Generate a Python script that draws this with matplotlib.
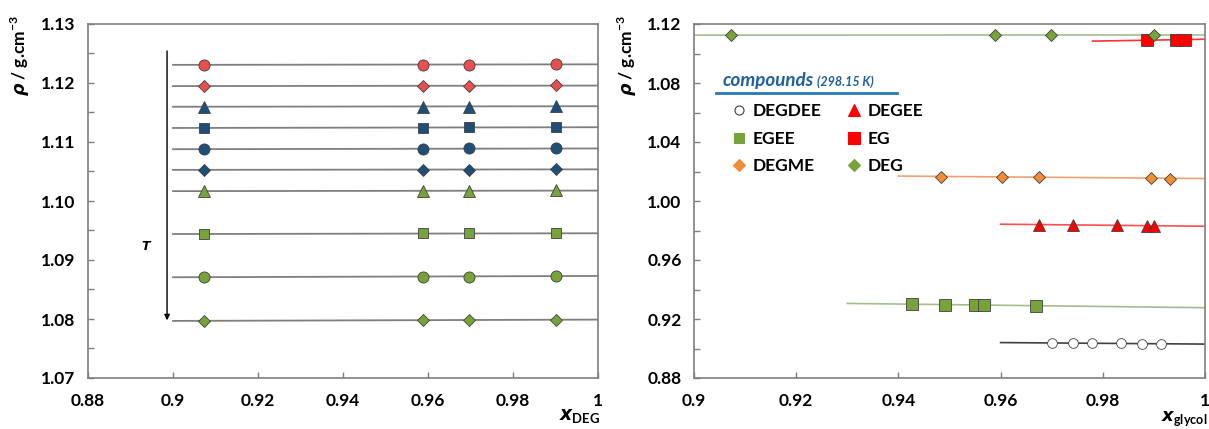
import numpy as np
import matplotlib
matplotlib.use('Agg')
import matplotlib.pyplot as plt
from matplotlib.ticker import MultipleLocator, FuncFormatter
from matplotlib.lines import Line2D

plt.rcParams['font.family'] = ['Lato', 'DejaVu Sans']
plt.rcParams['font.weight'] = 'bold'
plt.rcParams['mathtext.fontset'] = 'custom'
plt.rcParams['mathtext.it'] = 'DejaVu Sans:italic:bold'
plt.rcParams['mathtext.rm'] = 'Lato:bold'
plt.rcParams['mathtext.bf'] = 'Lato:bold'

# ---- left panel: DEG density at several temperatures ----
x_deg = [0.9072, 0.9588, 0.9697, 0.9902]
rho_deg = [
    [1.1231, 1.1231, 1.1231, 1.1232],
    [1.1195, 1.1195, 1.1195, 1.1196],
    [1.1160, 1.1160, 1.1160, 1.1161],
    [1.1124, 1.1124, 1.1125, 1.1125],
    [1.1088, 1.1088, 1.1089, 1.1089],
    [1.1053, 1.1053, 1.1053, 1.1054],
    [1.1017, 1.1017, 1.1017, 1.1018],
    [1.0944, 1.0945, 1.0945, 1.0945],
    [1.0871, 1.0872, 1.0872, 1.0873],
    [1.0797, 1.0798, 1.0798, 1.0799],
]
left_markers = ['o', 'D', '^', 's', 'o', 'D', '^', 's', 'o', 'D']
left_sizes = [8, 6, 8, 7.5, 8, 6, 8, 7.5, 8, 6]
left_colors = ['#E8504F', '#E8504F', '#1F4E79', '#1F4E79', '#1F4E79', '#1F4E79',
               '#77A33A', '#77A33A', '#77A33A', '#77A33A']

# ---- right panel: compounds at 298.15 K ----
x_DEGDEE = [0.9701, 0.9742, 0.9778, 0.9836, 0.9877, 0.9913]
y_DEGDEE = [0.9037, 0.9037, 0.9036, 0.9034, 0.9033, 0.9032]
x_DEGEE = [0.9676, 0.9741, 0.9827, 0.9886, 0.9900]
y_DEGEE = [0.9840, 0.9838, 0.9835, 0.9833, 0.9832]
x_EGEE = [0.9427, 0.9491, 0.9550, 0.9568, 0.9669]
y_EGEE = [0.9300, 0.9298, 0.9295, 0.9295, 0.9290]
x_EG = [0.9887, 0.9943, 0.9960]
y_EG = [1.1090, 1.1094, 1.1094]
x_DEGME = [0.9483, 0.9602, 0.9675, 0.9894, 0.9932]
y_DEGME = [1.0165, 1.0165, 1.0162, 1.0157, 1.0152]
x_DEG = [0.9072, 0.9590, 0.9699, 0.9901]
y_DEG = [1.1125, 1.1125, 1.1125, 1.1126]

fig = plt.figure(figsize=(12.09, 4.29), dpi=100)
axL = fig.add_axes([88/1209, 1-378/429, 510/1209, 354/429])
axR = fig.add_axes([694/1209, 1-378/429, 511/1209, 354/429])

edge = '#404040'
for rho, m, ms, c in zip(rho_deg, left_markers, left_sizes, left_colors):
    k = np.polyfit(x_deg, rho, 1)
    xf = np.array([0.9, 1.0])
    axL.plot(xf, np.polyval(k, xf), color='#7F7F7F', lw=1.3, zorder=2)
    axL.plot(x_deg, rho, ls='none', marker=m, ms=ms, mfc=c, mec=edge, mew=0.6, zorder=3)

axL.annotate('', xy=(0.8986, 1.0793), xytext=(0.8986, 1.1259),
             arrowprops=dict(arrowstyle='-|>', color='black', lw=1.0, mutation_scale=8))
axL.text(0.8939, 1.0925, r'$T$', fontsize=9, ha='center', va='center')

axL.set_xlim(0.88, 1.0)
axL.set_ylim(1.07, 1.13)
axL.xaxis.set_major_locator(MultipleLocator(0.02))
axL.yaxis.set_major_locator(MultipleLocator(0.01))
axL.yaxis.set_minor_locator(MultipleLocator(0.005))
axL.yaxis.set_major_formatter(FuncFormatter(lambda v, p: f'{v:.2f}'))

# right panel series
series = [
    (x_DEGDEE, y_DEGDEE, 'DEGDEE', 'o', 7, 'white', '#404040', 0.96),
    (x_DEGEE, y_DEGEE, 'DEGEE', '^', 8.5, '#FF0000', '#FF5050', 0.96),
    (x_EGEE, y_EGEE, 'EGEE', 's', 8, '#77A33A', '#A6BC8C', 0.93),
    (x_EG, y_EG, 'EG', 's', 8.5, '#FF0000', '#FF3030', 0.978),
    (x_DEGME, y_DEGME, 'DEGME', 'D', 6.5, '#F28C35', '#F0A070', 0.94),
    (x_DEG, y_DEG, 'DEG', 'D', 6.5, '#77A33A', '#A6BC8C', 0.90),
]
handles = []
for xs, ys, name, m, ms, fc, lc, x0 in series:
    k = np.polyfit(xs, ys, 1)
    xf = np.array([x0, 1.0])
    axR.plot(xf, np.polyval(k, xf), color=lc, lw=1.2, zorder=2)
    h, = axR.plot(xs, ys, ls='none', marker=m, ms=ms, mfc=fc, mec=edge, mew=0.6,
                  zorder=3, label=name)
    handles.append(h)

axR.set_xlim(0.9, 1.0)
axR.set_ylim(0.88, 1.12)
axR.xaxis.set_major_locator(MultipleLocator(0.02))
axR.yaxis.set_major_locator(MultipleLocator(0.04))
axR.yaxis.set_minor_locator(MultipleLocator(0.02))
axR.yaxis.set_major_formatter(FuncFormatter(lambda v, p: f'{v:.2f}'))

# legend filled row by row (matplotlib fills columns first)
order = [0, 2, 4, 1, 3, 5]
leg_handles = []
for i in order:
    h = handles[i]
    fc = h.get_markerfacecolor()
    leg_handles.append(Line2D([], [], ls='none', marker=h.get_marker(), ms=h.get_markersize() - 0.5,
                              mfc=fc, mec='#404040' if fc == 'white' else fc, mew=0.8))
axR.legend(leg_handles, [handles[i].get_label() for i in order], ncol=2, loc='upper left',
           bbox_to_anchor=(0.058, 0.80), frameon=False, handlelength=0.8,
           handletextpad=0.35, columnspacing=1.5, labelspacing=0.65, borderpad=0,
           prop={'weight': 'bold', 'size': 12.5})
axR.text(0.055, 0.825, 'compounds', transform=axR.transAxes, color='#1F5FA0',
         style='italic', fontsize=13.5, ha='left', va='baseline')
axR.text(0.240, 0.825, '(298.15 K)', transform=axR.transAxes, color='#1F5FA0',
         style='italic', fontsize=9, ha='left', va='baseline')
axR.plot([0.043, 0.398], [0.805, 0.805], transform=axR.transAxes, color='#2E75B6', lw=2)

fmt_x = FuncFormatter(lambda v, p: f'{round(v, 4):g}')
for ax in (axL, axR):
    ax.xaxis.set_major_formatter(fmt_x)
    for s in ax.spines.values():
        s.set_color('#7F7F7F')
        s.set_linewidth(1.2)
    ax.tick_params(which='both', direction='in', length=4, width=1, color='#7F7F7F',
                   labelsize=12.5, pad=9)
    ax.tick_params(axis='x', pad=11)
    for lab in ax.get_xticklabels() + ax.get_yticklabels():
        lab.set_fontweight('bold')

ylab = r'$\rho$ / g.cm$^{\mathrm{-3}}$'
fig.text(20/1209, 1-56/429, ylab, rotation=90, ha='center', va='center', fontsize=12.5)
fig.text(627/1209, 1-56/429, ylab, rotation=90, ha='center', va='center', fontsize=12.5)
fig.text(559/1209, 1-421/429, r'$x_{\mathrm{DEG}}$', fontsize=13.5, va='baseline', ha='left')
fig.text(1207/1209, 1-421/429, r'$x_{\mathrm{glycol}}$', fontsize=13, va='baseline', ha='right')
fig.savefig('out.png', dpi=100)
